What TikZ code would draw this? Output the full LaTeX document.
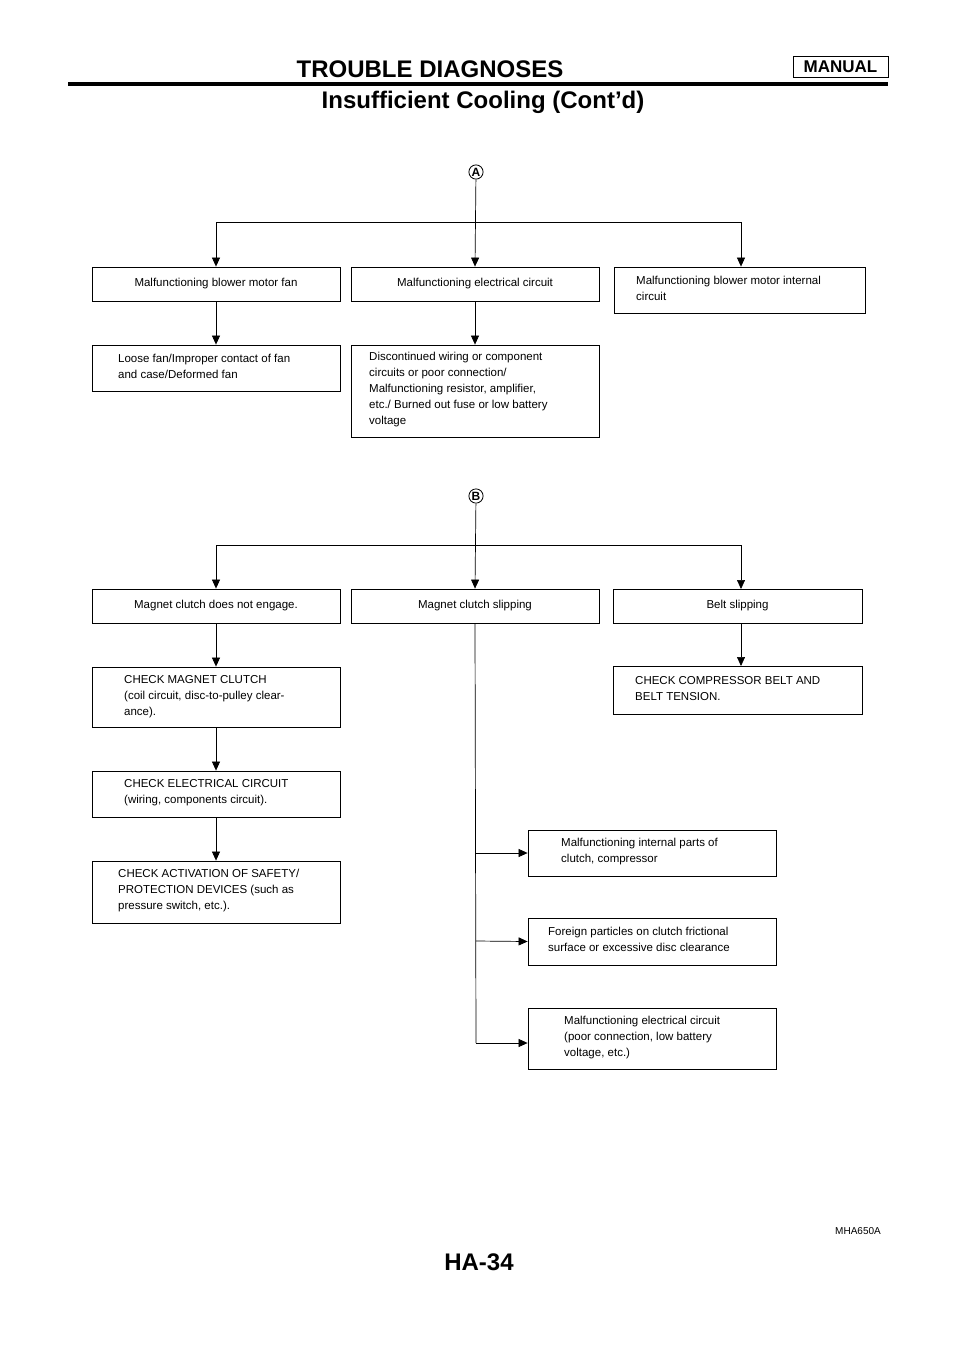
\documentclass[tikz,border=0pt]{standalone}
\usepackage{fontspec}
\setmainfont{Liberation Sans}
\usetikzlibrary{arrows.meta}
\tikzset{
  bx/.style={draw, thick, inner sep=0pt, anchor=center},
  tx/.style={inner sep=0pt, anchor=north west, align=left, font=\fontsize{11.5}{16}\selectfont},
  ctx/.style={inner sep=0pt, anchor=center, font=\fontsize{11.5}{16}\selectfont},
  ln/.style={line width=0.7pt},
  ar/.style={ln, -{Triangle[length=9pt,width=8pt]}},
  circ/.style={draw, circle, line width=0.8pt, inner sep=0.8pt, font=\bfseries\fontsize{12}{12}\selectfont}
}
\newcommand{\bxx}[5]{\node[bx, minimum width=#4pt-#2pt, minimum height=#5pt-#3pt] (#1) at ({(#2+#4)/2},{(#3+#5)/2}) {};}
\begin{document}
\begin{tikzpicture}[x=1pt,y=-1pt]
\useasboundingbox (0,0) rectangle (960,1358);
% header
\node[font=\bfseries\fontsize{24}{24}\selectfont, inner sep=0pt] (t1) at (430,69) {TROUBLE DIAGNOSES};
\node[draw, thick, minimum width=95pt, minimum height=21pt, inner sep=0pt, font=\bfseries\fontsize{17}{17}\selectfont] (man) at (840.5,67) {MANUAL};
\draw[line width=3.5pt] (68,84) -- (888,84);
\node[font=\bfseries\fontsize{24}{24}\selectfont, inner sep=0pt] (t2) at (483,102) {Insufficient Cooling (Cont'd)};
% A section
\node[circ] (A) at (476,172) {A};
\bxx{b1}{92}{267}{340}{301}
\bxx{b2}{351}{267}{599}{301}
\bxx{b3}{614}{267}{865}{313}
\bxx{b4}{92}{345}{340}{391}
\bxx{b5}{351}{345}{599}{437}
\node[ctx] at (b1) {Malfunctioning blower motor fan};
\node[ctx] at (b2) {Malfunctioning electrical circuit};
\node[tx] at (636,276) {Malfunctioning blower motor internal\\circuit};
\node[tx] at (118,354) {Loose fan/Improper contact of fan\\and case/Deformed fan};
\node[tx] at (369,352) {Discontinued wiring or component\\circuits or poor connection/\\Malfunctioning resistor, amplifier,\\etc./ Burned out fuse or low battery\\voltage};
\coordinate (ja) at (476,222);
\draw[ar] (A) -- (b2.north);
\draw[ar] (ja) -| (b1.north);
\draw[ar] (ja) -| (b3.north -| 741,0);
\draw[ar] (b1.south) -- (b4.north);
\draw[ar] (b2.south) -- (b5.north);
% B section
\node[circ] (B) at (476,496) {B};
\bxx{b6}{92}{589}{340}{623}
\bxx{b7}{351}{589}{599}{623}
\bxx{b8}{613}{589}{862}{623}
\bxx{b9}{92}{667}{340}{727}
\bxx{b10}{613}{666}{862}{714}
\bxx{b11}{92}{771}{340}{817}
\bxx{b12}{92}{861}{340}{923}
\bxx{b13}{528}{830}{776}{876}
\bxx{b14}{528}{918}{776}{965}
\bxx{b15}{528}{1008}{776}{1069}
\node[ctx] at (b6) {Magnet clutch does not engage.};
\node[ctx] at (b7) {Magnet clutch slipping};
\node[ctx] at (b8) {Belt slipping};
\node[tx] at (124,675) {CHECK MAGNET CLUTCH\\(coil circuit, disc-to-pulley clear-\\ance).};
\node[tx] at (635,676) {CHECK COMPRESSOR BELT AND\\BELT TENSION.};
\node[tx] at (124,779) {CHECK ELECTRICAL CIRCUIT\\(wiring, components circuit).};
\node[tx] at (118,869) {CHECK ACTIVATION OF SAFETY/\\PROTECTION DEVICES (such as\\pressure switch, etc.).};
\node[tx] at (561,838) {Malfunctioning internal parts of\\clutch, compressor};
\node[tx] at (548,927) {Foreign particles on clutch frictional\\surface or excessive disc clearance};
\node[tx] at (564,1016) {Malfunctioning electrical circuit\\(poor connection, low battery\\voltage, etc.)};
\coordinate (jb) at (476,545);
\draw[ar] (B) -- (b7.north);
\draw[ar] (jb) -| (b6.north);
\draw[ar] (jb) -| (741,589);
\draw[ar] (b6.south) -- (b9.north);
\draw[ar] (b9.south) -- (b11.north);
\draw[ar] (b11.south) -- (b12.north);
\draw[ar] (b8.south -| 741,0) -- (741,666);
\coordinate (jc) at (476,1043);
\draw[ln] (b7.south) -- (jc);
\draw[ar] (476,853) -- (b13.west);
\draw[ar] (476,941) -- (b14.west);
\draw[ar] (jc) -- (jc -| b15.west);
% footer
\node[font=\fontsize{10}{10}\selectfont, inner sep=0pt] (code) at (858,1231) {MHA650A};
\node[font=\bfseries\fontsize{24}{24}\selectfont, inner sep=0pt] (pg) at (479,1262) {HA-34};
\end{tikzpicture}
\end{document}
